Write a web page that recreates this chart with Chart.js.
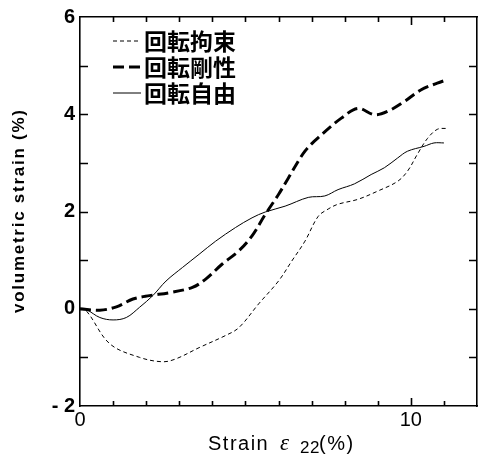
<!DOCTYPE html>
<html>
<head>
<meta charset="utf-8">
<style>
  html, body { margin: 0; padding: 0; background: #fff; }
  #wrap { width: 482px; height: 458px; }
</style>
</head>
<body>
<div id="wrap"><canvas id="strainChart" width="482" height="458"></canvas></div>
<script src="https://cdn.jsdelivr.net/npm/chart.js"></script>
<script>
    const seriesNames = ['回転拘束', '回転剛性', '回転自由'];

    const restrainedX = [0, 0.2, 0.9, 1.8, 2.5, 2.9, 3.6, 4.4, 4.8, 5.4, 6.0, 6.4, 6.8, 7.2, 7.5, 7.8, 8.4, 9.0, 9.6, 9.9, 10.2, 10.5, 10.8, 11.1];
    const restrainedY = [0, -0.05, -0.72, -1.0, -1.09, -1.03, -0.8, -0.55, -0.39, 0.1, 0.57, 0.98, 1.39, 1.9, 2.05, 2.15, 2.25, 2.42, 2.62, 2.83, 3.18, 3.5, 3.69, 3.71];

    const rigidX = [0, 0.6, 1.1, 1.6, 2.1, 2.7, 3.4, 3.8, 4.3, 4.8, 5.2, 5.6, 6.0, 6.3, 6.8, 7.3, 7.9, 8.4, 8.9, 9.3, 9.8, 10.3, 10.8, 11.1];
    const rigidY = [0, -0.03, 0.04, 0.2, 0.27, 0.33, 0.44, 0.61, 0.92, 1.19, 1.5, 1.94, 2.35, 2.69, 3.24, 3.58, 3.92, 4.12, 3.99, 4.06, 4.26, 4.5, 4.64, 4.71];

    const freeX = [0, 0.2, 0.6, 1.0, 1.4, 1.8, 2.2, 2.6, 3.1, 3.6, 4.1, 4.7, 5.2, 5.6, 6.2, 6.9, 7.4, 7.8, 8.3, 8.8, 9.2, 9.6, 9.9, 10.4, 10.7, 11.0];
    const freeY = [0, -0.02, -0.18, -0.23, -0.18, 0.03, 0.27, 0.57, 0.85, 1.12, 1.39, 1.67, 1.87, 1.99, 2.11, 2.29, 2.32, 2.45, 2.57, 2.76, 2.9, 3.1, 3.24, 3.34, 3.41, 3.41];

    const xTickLabels = { 0: '0', 10: '10' };
    const yTickLabels = { 6: '6', 4: '4', 2: '2', 0: '0', '-2': '- 2' };

    const toPoints = (xs, ys) => xs.map((x, i) => ({ x: x, y: ys[i] }));

    const styles = [
        { width: 1, dash: [4, 3] },
        { width: 3, dash: [11, 5] },
        { width: 1, dash: [] }
    ];
    const datasetsRaw = [toPoints(restrainedX, restrainedY), toPoints(rigidX, rigidY), toPoints(freeX, freeY)];

    // inward tick marks on all four sides, legend, and both axis titles
    const framePlugin = {
        id: 'frame',
        afterDraw(chart) {
            const c = chart.ctx;
            const a = chart.chartArea;
            const xs = chart.scales.x, ys = chart.scales.y;
            c.save();
            c.strokeStyle = '#000';
            c.lineWidth = 1.6;
            for (let v = 1; v <= 11; v++) {
                const px = Math.round(xs.getPixelForValue(v)) + 0.5;
                const len = v === 10 ? 8 : 5;
                c.beginPath();
                c.moveTo(px, a.bottom); c.lineTo(px, a.bottom - len);
                c.moveTo(px, a.top); c.lineTo(px, a.top + len);
                c.stroke();
            }
            for (let v = -1; v <= 5; v++) {
                const py = Math.round(ys.getPixelForValue(v)) + 0.5;
                c.beginPath();
                c.moveTo(a.left, py); c.lineTo(a.left + 8, py);
                c.moveTo(a.right, py); c.lineTo(a.right - 8, py);
                c.stroke();
            }

            // legend
            const rowsY = [41, 67, 93];
            chart.data.datasets.forEach((ds, i) => {
                c.beginPath();
                c.lineWidth = ds.borderWidth;
                c.setLineDash(ds.borderDash);
                c.moveTo(113, rowsY[i]); c.lineTo(141, rowsY[i]);
                c.stroke();
                c.setLineDash([]);
                c.fillStyle = '#000';
                c.font = 'bold 23px "Noto Sans CJK JP"';
                c.textBaseline = 'middle';
                c.textAlign = 'left';
                c.fillText(ds.label, 144, rowsY[i]);
            });

            c.fillStyle = '#000';
            c.textAlign = 'left';
            c.textBaseline = 'alphabetic';

            // y axis title
            const yTitle = 'volumetric strain (%)';
            c.font = 'bold 17px "Liberation Sans"';
            c.letterSpacing = '0px';
            const yw = c.measureText(yTitle).width;
            c.letterSpacing = ((203 - yw) / (yTitle.length - 1)).toFixed(2) + 'px';
            c.save();
            c.translate(24, 313);
            c.rotate(-Math.PI / 2);
            c.fillText(yTitle, 0, 0);
            c.restore();

            // x axis title: Strain ε22(%)
            c.font = '20px "Liberation Sans"';
            c.letterSpacing = '1.5px';
            c.fillText('Strain', 208, 450);
            c.letterSpacing = '0px';
            c.font = 'italic 23px "Liberation Serif"';
            c.fillText('ε', 280, 450);
            c.font = '17px "Liberation Sans"';
            c.letterSpacing = '0.5px';
            c.fillText('22', 300, 453);
            c.font = '20px "Liberation Sans"';
            c.letterSpacing = '1.5px';
            c.fillText('(%)', 319, 450);
            c.restore();
        }
    };

    const ctx = document.getElementById('strainChart').getContext('2d');
    new Chart(ctx, {
        type: 'line',
        data: {
            datasets: datasetsRaw.map((pts, i) => ({
                label: seriesNames[i],
                data: pts,
                borderColor: '#000',
                backgroundColor: '#000',
                borderWidth: styles[i].width,
                borderDash: styles[i].dash,
                pointRadius: 0,
                tension: 0.35,
                fill: false
            }))
        },
        options: {
            responsive: false,
            animation: false,
            layout: { padding: 0 },
            plugins: {
                legend: { display: false },
                tooltip: { enabled: false }
            },
            scales: {
                x: {
                    type: 'linear',
                    position: 'bottom',
                    min: 0, max: 12,
                    afterFit: s => { s.height = 52; },
                    grid: { display: false, drawTicks: false },
                    border: { display: true, color: '#000', width: 1.6 },
                    ticks: {
                        stepSize: 1,
                        autoSkip: false,
                        maxRotation: 0,
                        padding: 2,
                        color: '#000',
                        font: { family: '"Liberation Sans"', size: 20 },
                        callback: v => xTickLabels[v] || ''
                    }
                },
                x2: {
                    type: 'linear',
                    position: 'top',
                    min: 0, max: 12,
                    afterFit: s => { s.height = 15; },
                    grid: { display: false, drawTicks: false },
                    border: { display: true, color: '#000', width: 1.6 },
                    ticks: { display: false }
                },
                y: {
                    type: 'linear',
                    position: 'left',
                    min: -2, max: 6,
                    afterFit: s => { s.width = 80; },
                    grid: { display: false, drawTicks: false },
                    border: { display: true, color: '#000', width: 1.6 },
                    ticks: {
                        stepSize: 1,
                        autoSkip: false,
                        padding: 5,
                        color: '#000',
                        font: { family: '"Liberation Sans"', size: 20, weight: 'bold' },
                        callback: v => yTickLabels[v] || ''
                    }
                },
                y2: {
                    type: 'linear',
                    position: 'right',
                    min: -2, max: 6,
                    afterFit: s => { s.width = 5; },
                    grid: { display: false, drawTicks: false },
                    border: { display: true, color: '#000', width: 1.6 },
                    ticks: { display: false }
                }
            }
        },
        plugins: [framePlugin]
    });
</script>
</body>
</html>
